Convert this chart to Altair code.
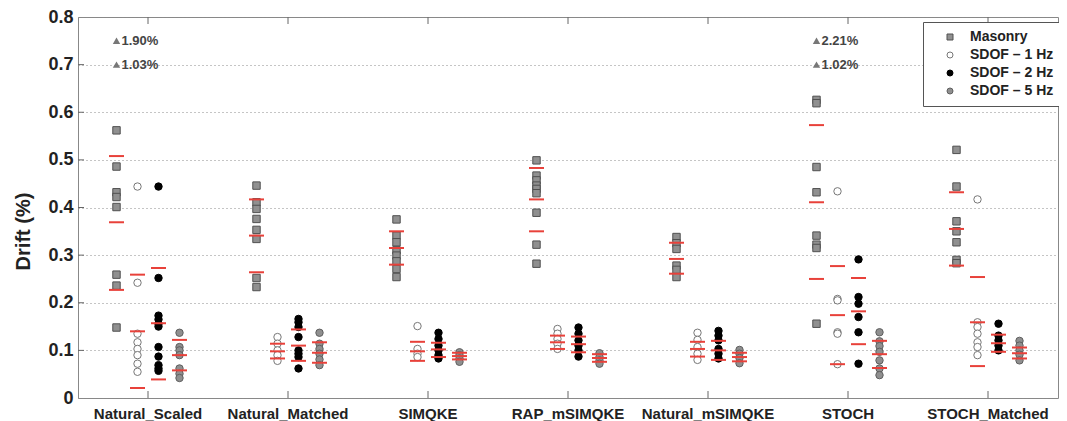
import altair as alt
import pandas as pd

groups = ["Natural_Scaled", "Natural_Matched", "SIMQKE", "RAP_mSIMQKE",
          "Natural_mSIMQKE", "STOCH", "STOCH_Matched"]
series = ["Masonry", "SDOF – 1 Hz", "SDOF – 2 Hz", "SDOF – 5 Hz"]

# Drift values (%) per group, for each series
masonry_pts = [
    [0.562, 0.486, 0.432, 0.422, 0.401, 0.259, 0.236, 0.148],
    [0.446, 0.411, 0.397, 0.376, 0.353, 0.334, 0.252, 0.233],
    [0.375, 0.341, 0.327, 0.310, 0.299, 0.287, 0.271, 0.254],
    [0.499, 0.467, 0.457, 0.446, 0.439, 0.430, 0.389, 0.322, 0.282],
    [0.338, 0.325, 0.313, 0.278, 0.269, 0.254],
    [0.626, 0.619, 0.485, 0.432, 0.341, 0.322, 0.315, 0.156],
    [0.521, 0.444, 0.371, 0.350, 0.327, 0.290, 0.283],
]
sdof1_pts = [
    [0.444, 0.242, 0.135, 0.117, 0.103, 0.090, 0.072, 0.055],
    [0.128, 0.114, 0.100, 0.090, 0.078],
    [0.151, 0.103, 0.093, 0.086],
    [0.145, 0.135, 0.124, 0.114, 0.103],
    [0.137, 0.122, 0.107, 0.093, 0.080],
    [0.434, 0.208, 0.205, 0.138, 0.135, 0.071],
    [0.417, 0.159, 0.149, 0.135, 0.117, 0.107, 0.090],
]
sdof2_pts = [
    [0.444, 0.252, 0.173, 0.165, 0.156, 0.150, 0.107, 0.087, 0.069, 0.062, 0.057],
    [0.166, 0.159, 0.149, 0.128, 0.100, 0.093, 0.086, 0.062],
    [0.137, 0.124, 0.110, 0.100, 0.090, 0.083],
    [0.148, 0.135, 0.121, 0.110, 0.100, 0.087],
    [0.141, 0.131, 0.121, 0.103, 0.093, 0.083],
    [0.291, 0.212, 0.198, 0.170, 0.138, 0.072],
    [0.156, 0.131, 0.121, 0.110, 0.100],
]
sdof5_pts = [
    [0.137, 0.107, 0.100, 0.090, 0.062, 0.051, 0.042],
    [0.137, 0.114, 0.103, 0.093, 0.081, 0.069],
    [0.096, 0.090, 0.083, 0.076],
    [0.094, 0.086, 0.079, 0.072],
    [0.101, 0.093, 0.084, 0.073],
    [0.138, 0.119, 0.109, 0.097, 0.079, 0.062, 0.048],
    [0.120, 0.110, 0.100, 0.091, 0.079],
]

# Red statistic lines (upper, middle, lower) per group, for each series
masonry_lines = [[0.508, 0.369, 0.227], [0.417, 0.341, 0.264], [0.350, 0.315, 0.280],
                 [0.483, 0.417, 0.350], [0.326, 0.292, 0.261], [0.573, 0.411, 0.250],
                 [0.432, 0.355, 0.278]]
sdof1_lines = [[0.259, 0.140, 0.021], [0.114, 0.098, 0.083], [0.118, 0.098, 0.078],
               [0.131, 0.117, 0.103], [0.118, 0.103, 0.087], [0.277, 0.174, 0.071],
               [0.254, 0.159, 0.067]]
sdof2_lines = [[0.273, 0.157, 0.039], [0.144, 0.110, 0.078], [0.116, 0.102, 0.086],
               [0.129, 0.113, 0.096], [0.120, 0.100, 0.080], [0.252, 0.182, 0.113],
               [0.133, 0.115, 0.097]]
sdof5_lines = [[0.122, 0.090, 0.058], [0.117, 0.095, 0.074], [0.095, 0.088, 0.081],
               [0.092, 0.084, 0.076], [0.095, 0.086, 0.077], [0.120, 0.092, 0.063],
               [0.106, 0.094, 0.083]]

# Off-scale masonry outliers shown as annotations
ann_groups = ["Natural_Scaled", "Natural_Scaled", "STOCH", "STOCH"]
ann_levels = [0.75, 0.70, 0.75, 0.70]
ann_texts = ["1.90%", "1.03%", "2.21%", "1.02%"]

y_ticks = [0.1, 0.2, 0.3, 0.4, 0.5, 0.6, 0.7]


def to_long(per_series):
    rows = []
    for s, lists in zip(series, per_series):
        for g, vals in zip(groups, lists):
            for v in vals:
                rows.append({"group": g, "series": s, "value": v})
    return pd.DataFrame(rows)


pts_df = to_long([masonry_pts, sdof1_pts, sdof2_pts, sdof5_pts])
lines_df = to_long([masonry_lines, sdof1_lines, sdof2_lines, sdof5_lines])
ann_df = pd.DataFrame({"group": ann_groups, "series": ["Masonry"] * 4,
                       "value": ann_levels, "label": ann_texts})
gtick_df = pd.DataFrame({"group": groups})
ytick_df = pd.DataFrame({"value": y_ticks})

FONT = "Liberation Sans"

x_enc = alt.X("group:N",
              scale=alt.Scale(domain=groups, paddingInner=0, paddingOuter=0),
              axis=alt.Axis(title=None, labelAngle=0, ticks=False, domain=False,
                            labelFont=FONT, labelFontWeight="bold", labelFontSize=15,
                            labelColor="#222", labelPadding=8, grid=False))
xo_enc = alt.XOffset("series:N",
                     scale=alt.Scale(domain=series, paddingInner=0, paddingOuter=0,
                                     range=[28, 112]))
y_enc = alt.Y("value:Q",
              scale=alt.Scale(domain=[0, 0.8], nice=False, zero=True),
              axis=alt.Axis(title="Drift (%)", values=[0, 0.1, 0.2, 0.3, 0.4, 0.5, 0.6, 0.7, 0.8],
                            labelExpr="datum.value == 0 ? '0' : format(datum.value, '.1f')",
                            ticks=False, domain=False, grid=True,
                            gridDash=[1, 3], gridColor="#8a8a8a", gridWidth=1,
                            labelFont=FONT, labelFontWeight="bold", labelFontSize=18,
                            labelColor="#222", labelPadding=5,
                            titleFont=FONT, titleFontWeight="bold", titleFontSize=20,
                            titleColor="#222", titlePadding=14, titleY=214))

points = alt.Chart(pts_df).mark_point(filled=True, opacity=1, strokeWidth=1, size=55).encode(
    x=x_enc, xOffset=xo_enc, y=y_enc,
    shape=alt.Shape("series:N", scale=alt.Scale(domain=series,
                    range=["square", "circle", "circle", "circle"]), legend=alt.Legend(title=None)),
    fill=alt.Fill("series:N", scale=alt.Scale(domain=series,
                  range=["#909090", "white", "black", "#8f8f8f"]), legend=alt.Legend(title=None)),
    stroke=alt.Stroke("series:N", scale=alt.Scale(domain=series,
                      range=["#505050", "#777777", "black", "#5f5f5f"]), legend=alt.Legend(title=None)),
)

red = alt.Chart(lines_df).mark_tick(orient="horizontal", color="#e8413a", thickness=2,
                                     size=15, opacity=1).encode(
    x=x_enc, xOffset=xo_enc, y=y_enc)

tri = alt.Chart(ann_df).mark_point(shape="triangle-up", filled=True, color="#777777",
                                    size=55, opacity=1).encode(
    x=x_enc, xOffset=xo_enc, y=y_enc)
txt = alt.Chart(ann_df).mark_text(align="left", baseline="middle", dx=5, font=FONT,
                                   fontWeight="bold", fontSize=13, color="#444").encode(
    x=x_enc, xOffset=xo_enc, y=y_enc, text="label:N")

bticks = alt.Chart(gtick_df).mark_rule(color="#666", strokeWidth=1).encode(
    x=x_enc, y=alt.value(381), y2=alt.value(374))
tticks = alt.Chart(gtick_df).mark_rule(color="#666", strokeWidth=1).encode(
    x=x_enc, y=alt.value(0), y2=alt.value(7))
lticks = alt.Chart(ytick_df).mark_rule(color="#666", strokeWidth=1).encode(
    y=alt.Y("value:Q", scale=alt.Scale(domain=[0, 0.8], nice=False)),
    x=alt.value(0), x2=alt.value(6))

chart = alt.layer(lticks, bticks, tticks, points, red, tri, txt).properties(
    width=980, height=381,
    autosize=alt.AutoSizeParams(type="none"),
    padding={"left": 70, "top": 9, "right": 1, "bottom": 23},
).configure_view(stroke="#888888", strokeWidth=1).configure_legend(
    orient="none", legendX=845, legendY=5,
    strokeColor="#555", fillColor="white", padding=8,
    labelFont=FONT, labelFontWeight="bold", labelFontSize=14, labelColor="#222",
    symbolSize=36, rowPadding=4, symbolStrokeWidth=1, labelOffset=13, symbolOffset=12,
)

chart.save("out.html", embed_options={"renderer": "svg", "actions": False})
